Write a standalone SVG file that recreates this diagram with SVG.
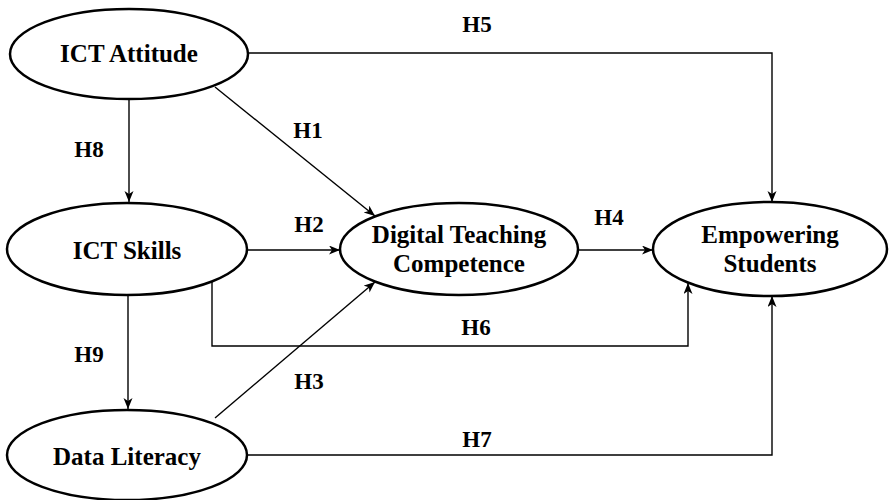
<svg xmlns="http://www.w3.org/2000/svg" width="889" height="500" viewBox="0 0 889 500">
<defs>
<marker id="arr" markerWidth="12" markerHeight="10" refX="11" refY="4.5" orient="auto" markerUnits="userSpaceOnUse">
<path d="M0,0 L11,4.5 L0,9 L3,4.5 z" fill="#000"/>
</marker>
<style>
.node ellipse{fill:#fff;stroke:#000;stroke-width:2.5}
.node text{font-family:"Liberation Serif","Times New Roman",serif;font-weight:bold;font-size:25px;text-anchor:middle;fill:#000}
.lbl{font-family:"Liberation Serif","Times New Roman",serif;font-weight:bold;font-size:23px;text-anchor:middle;fill:#000}
.conn path{fill:none;stroke:#000;stroke-width:1.4;marker-end:url(#arr)}
</style>
</defs>
<rect width="889" height="500" fill="#fff"/>
<g id="connectors" class="conn">
<path d="M248,53 H772 V202"/>
<path d="M215,87 L375,216"/>
<path d="M129,99 V202"/>
<path d="M247,250 H340"/>
<path d="M578,250 H653"/>
<path d="M212,282 V346 H688 V283"/>
<path d="M128,296 V409"/>
<path d="M215,418 L375,282"/>
<path d="M247,455 H772 V296"/>
</g>
<g id="labels">
<text class="lbl" x="477" y="32">H5</text>
<text class="lbl" x="308" y="138">H1</text>
<text class="lbl" x="89" y="157">H8</text>
<text class="lbl" x="309" y="232">H2</text>
<text class="lbl" x="609" y="225">H4</text>
<text class="lbl" x="476" y="335">H6</text>
<text class="lbl" x="89" y="362">H9</text>
<text class="lbl" x="309" y="389">H3</text>
<text class="lbl" x="477" y="447">H7</text>
</g>
<g id="ict-attitude" class="node">
<ellipse cx="129" cy="54" rx="119" ry="45"/>
<text x="129" y="62">ICT Attitude</text>
</g>
<g id="ict-skills" class="node">
<ellipse cx="127" cy="249" rx="120" ry="46"/>
<text x="127" y="259">ICT Skills</text>
</g>
<g id="data-literacy" class="node">
<ellipse cx="127" cy="455" rx="120" ry="45"/>
<text x="127" y="465">Data Literacy</text>
</g>
<g id="digital-teaching-competence" class="node">
<ellipse cx="459" cy="249" rx="119" ry="46"/>
<text x="459" y="243">Digital Teaching</text>
<text x="459" y="272">Competence</text>
</g>
<g id="empowering-students" class="node">
<ellipse cx="770" cy="249" rx="117" ry="47"/>
<text x="770" y="243">Empowering</text>
<text x="770" y="272">Students</text>
</g>
</svg>
